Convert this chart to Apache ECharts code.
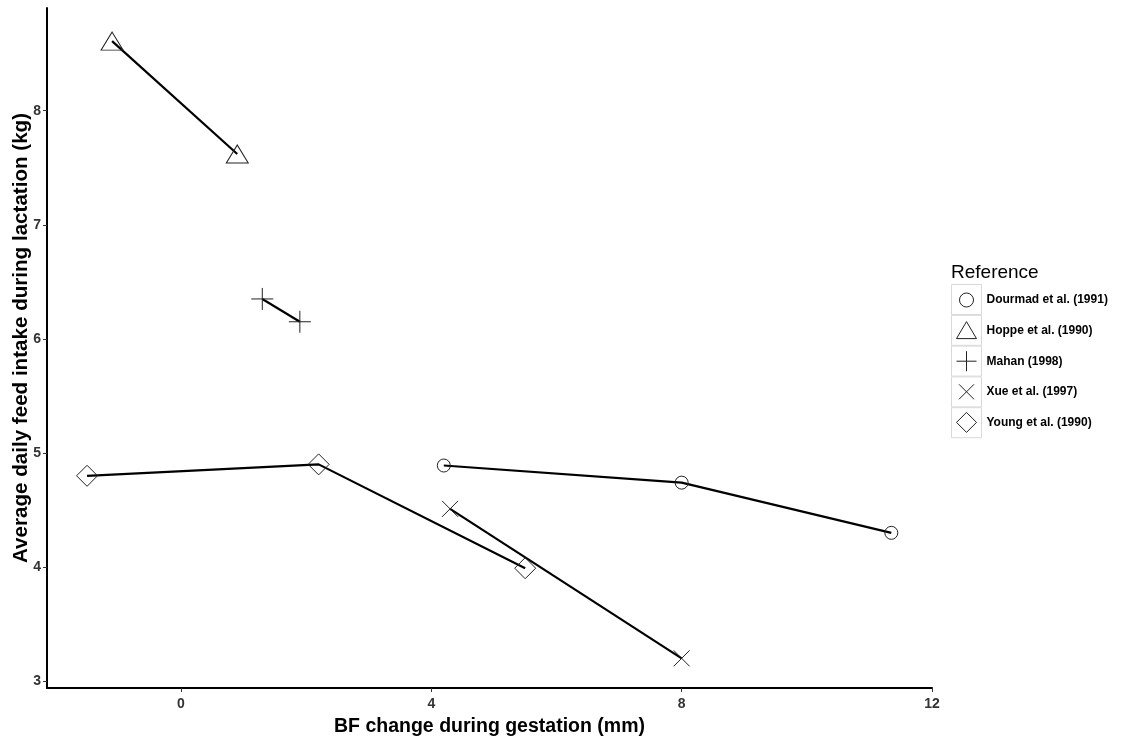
<!DOCTYPE html>
<html><head><meta charset="utf-8">
<script src="https://cdn.jsdelivr.net/npm/echarts@6/dist/echarts.min.js"></script>
<style>html,body{margin:0;padding:0;background:#fff}#c{width:1135px;height:743px}</style>
</head><body><div id="c"></div>
<script>
const seriesNames = ['Dourmad et al. (1991)','Hoppe et al. (1990)','Mahan (1998)','Xue et al. (1997)','Young et al. (1990)'];
const dourmad = [[4.2,4.89],[8.0,4.74],[11.35,4.30]];
const hoppe = [[-1.1,8.61],[0.9,7.62]];
const mahan = [[1.3,6.35],[1.9,6.15]];
const xue = [[4.3,4.51],[8.0,3.20]];
const young = [[-1.5,4.80],[2.2,4.90],[5.5,3.99]];
const xTicks = [0,4,8,12];
const yTicks = [3,4,5,6,7,8];

const plusPath = 'path://M0,10L20,10M10,0L10,20';
const crossPath = 'path://M0,0L20,20M20,0L0,20';
const symbols = ['circle','triangle',plusPath,crossPath,'diamond'];
const sizes = [13,[22,18],22,16,[21,21]];
const datas = [dourmad,hoppe,mahan,xue,young];
// legend icons (padded so they render at reference size inside a 20x20 box)
const legendIcons = [
  'path://M0,0M20,20M17,10A7,7,0,1,1,3,10A7,7,0,1,1,17,10Z',
  'path://M0,0M20,20M10,1L20,18L0,18Z',
  'path://M0,0M20,20M0,10L20,10M10,0L10,20',
  'path://M0,0M20,20M2.5,2.5L17.5,17.5M17.5,2.5L2.5,17.5',
  'path://M0,0M20,20M10,0L20,10L10,20L0,10Z'
];

const chart = echarts.init(document.getElementById('c'), null, {renderer:'canvas'});
const font = '"Liberation Sans", Arial, sans-serif';
const series = seriesNames.map((n,i)=>({
  name:n, type:'line', data:datas[i], symbol:symbols[i], symbolSize:sizes[i],
  z: 2,
  lineStyle:{color:'#000',width:2.2},
  itemStyle:{color:'rgba(255,255,255,0)',borderColor:'#222',borderWidth:1},
  emphasis:{disabled:true}, animation:false
}));
chart.setOption({
  animation:false,
  backgroundColor:'#fff',
  title:{text:'Reference',left:946,top:258,textStyle:{fontFamily:font,fontWeight:'normal',fontSize:19,color:'#000'}},
  grid:{left:47,right:203,top:8,bottom:55,outerBoundsMode:'none'},
  legend:{orient:'vertical',left:956,top:289.5,padding:0,itemWidth:20,itemHeight:20,itemGap:9.6,
    data:seriesNames.map((n,i)=>({name:n,icon:legendIcons[i]})),
    itemStyle:{color:'rgba(255,255,255,0)',borderColor:'#222',borderWidth:1},
    textStyle:{fontFamily:font,fontWeight:'bold',fontSize:12,color:'#000',padding:[0,0,0,5]},
    selectedMode:false},
  graphic: seriesNames.map((n,i)=>({type:'rect',left:951,top:284+i*30.8,z:-1,
    shape:{width:30,height:30},style:{fill:'#fff',stroke:'#d9d9d9',lineWidth:1}})),
  xAxis:{type:'value',min:-2.14,max:12,
    name:'BF change during gestation (mm)',nameLocation:'middle',nameGap:29,nameMoveOverlap:false,
    nameTextStyle:{fontFamily:font,fontWeight:'bold',fontSize:19.5,color:'#000'},
    axisLine:{show:true,onZero:false,lineStyle:{color:'#000',width:2}},
    axisTick:{show:true,length:4,customValues:xTicks,lineStyle:{color:'#333',width:1}},
    axisLabel:{customValues:xTicks,fontFamily:font,fontWeight:'bold',fontSize:14,color:'#333',margin:9},
    splitLine:{show:false}},
  yAxis:{type:'value',min:2.94,max:8.9,
    name:'Average daily feed intake during lactation (kg)',nameLocation:'middle',nameGap:15,nameMoveOverlap:false,
    nameTextStyle:{fontFamily:font,fontWeight:'bold',fontSize:20.6,color:'#000',padding:[0,0,0,20]},
    axisLine:{show:true,onZero:false,lineStyle:{color:'#000',width:2}},
    axisTick:{show:true,length:4,customValues:yTicks,lineStyle:{color:'#333',width:1}},
    axisLabel:{customValues:yTicks,fontFamily:font,fontWeight:'bold',fontSize:14,color:'#333',margin:6},
    splitLine:{show:false}},
  series
});
</script></body></html>
